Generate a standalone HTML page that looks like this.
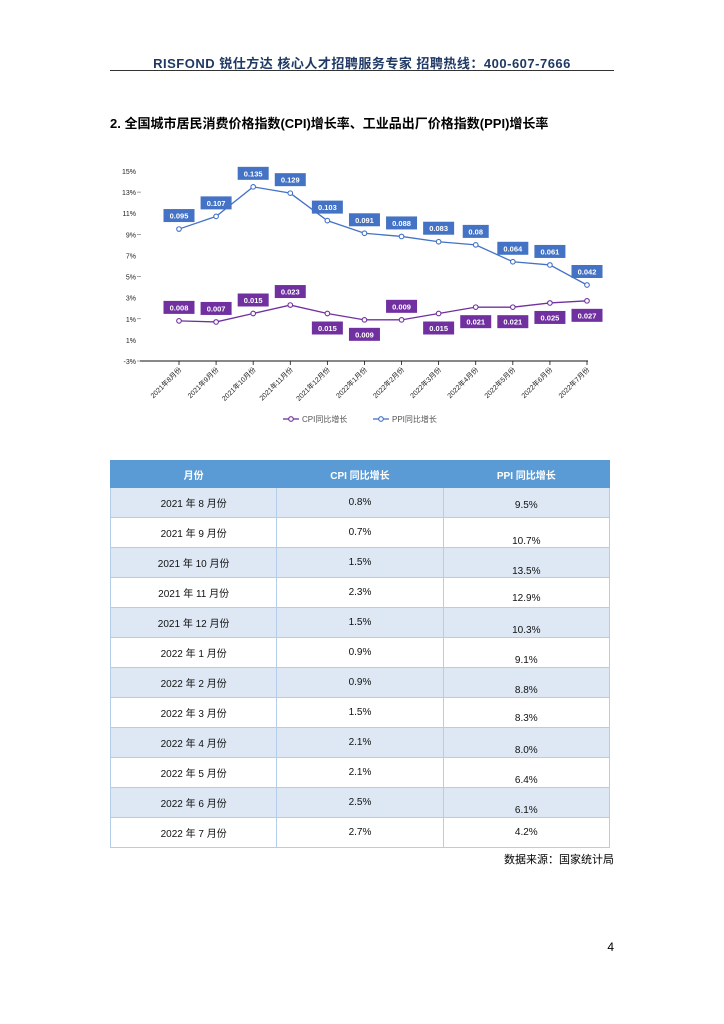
<!DOCTYPE html>
<html><head><meta charset="utf-8">
<style>
body{margin:0;background:#fff;width:724px;height:1024px;position:relative;font-family:"Liberation Sans","Noto Sans CJK SC",sans-serif;overflow:hidden}
.hdr{position:absolute;left:0;width:724px;top:53px;text-align:center;font-weight:bold;font-size:13px;color:#1f3864;letter-spacing:0.5px}
.rule{position:absolute;left:110px;width:504px;top:70px;height:0;border-top:1.5px solid #333}
.title{position:absolute;left:110px;top:113px;font-weight:bold;font-size:13px;color:#000}
table{position:absolute;left:110px;top:460px;width:500px;border-collapse:collapse;font-size:10px;color:#111}
td,th{border:1px solid #b4cde9;text-align:center;height:29px;padding:0;width:166px}
th{background:#5b9bd5;color:#fff;font-weight:bold;height:26px;border-color:#5b9bd5}
tr:nth-child(even) td{background:#dde8f4}
.src{position:absolute;right:110px;top:851px;font-size:11px}
.pg{position:absolute;right:110px;top:940px;font-size:12px}
</style></head><body>
<div class="hdr">RISFOND 锐仕方达 核心人才招聘服务专家 招聘热线：400-607-7666</div>
<div class="rule"></div>
<div class="title">2. 全国城市居民消费价格指数(CPI)增长率、工业品出厂价格指数(PPI)增长率</div>
<svg id="chart" style="position:absolute;left:0;top:0" width="724" height="440"></svg>
<table id="tbl">
<tr><th>月份</th><th>CPI 同比增长</th><th>PPI 同比增长</th></tr>
</table>
<div class="src">数据来源：国家统计局</div>
<div class="pg">4</div>
<script>
const months=["2021年8月份","2021年9月份","2021年10月份","2021年11月份","2021年12月份","2022年1月份","2022年2月份","2022年3月份","2022年4月份","2022年5月份","2022年6月份","2022年7月份"];
const tableMonths=["2021 年 8 月份","2021 年 9 月份","2021 年 10 月份","2021 年 11 月份","2021 年 12 月份","2022 年 1 月份","2022 年 2 月份","2022 年 3 月份","2022 年 4 月份","2022 年 5 月份","2022 年 6 月份","2022 年 7 月份"];
const cpi=[0.008,0.007,0.015,0.023,0.015,0.009,0.009,0.015,0.021,0.021,0.025,0.027];
const ppi=[0.095,0.107,0.135,0.129,0.103,0.091,0.088,0.083,0.080,0.064,0.061,0.042];
const yTicks=[15,13,11,9,7,5,3,1,-1,-3];
const yTickLabels=["15%","13%","11%","9%","7%","5%","3%","1%","1%","-3%"];
const cpiLabelAbove=[1,1,1,1,0,0,1,0,0,0,0,0];
const ppiCol=[3,9,9,6,8,8,8,6,8,8,8,0];
const NS="http://www.w3.org/2000/svg";
const svg=document.getElementById('chart');
const X=i=>179+i*(587-179)/11;
const Y=v=>171+(15-v)*(361-171)/18;
function el(t,a,p){const e=document.createElementNS(NS,t);for(const k in a)e.setAttribute(k,a[k]);(p||svg).appendChild(e);return e;}
yTicks.forEach((t,i)=>{
 const tx=el('text',{x:136,y:Y(t)+3,'text-anchor':'end','font-size':7,fill:'#222'});
 tx.textContent=yTickLabels[i];
 
 
 if(i%2==1){el('line',{x1:137,x2:141,y1:Y(t),y2:Y(t),stroke:'#666','stroke-width':0.6});}
});
const ax=el('line',{x1:140,x2:588,y1:361,y2:361,stroke:'#111','stroke-width':1});


months.forEach((m,i)=>{
 el('line',{x1:X(i),x2:X(i),y1:361,y2:365,stroke:'#111','stroke-width':0.8});
 const t=el('text',{x:X(i)+3,y:370,'text-anchor':'end','font-size':7,fill:'#222',transform:`rotate(-45 ${X(i)+3} 370)`});
 t.textContent=m;
 
 
});
function series(vals,color,name,above){
 const pl=el('polyline',{points:vals.map((v,i)=>X(i)+','+Y(v*100)).join(' '),fill:'none',stroke:color,'stroke-width':1.3});
 
 
 vals.forEach((v,i)=>{
  const c=el('circle',{cx:X(i),cy:Y(v*100),r:2.3,fill:'#fff',stroke:color,'stroke-width':1.1});
  
  
  const lbl=String(v);
  const w=lbl.length*5+6;
  const up=above(i);
  const by=up?Y(v*100)-20:Y(v*100)+8;
  el('rect',{x:X(i)-w/2,y:by,width:w,height:13,fill:color});
  const t=el('text',{x:X(i),y:by+9.5,'text-anchor':'middle','font-size':7.5,'font-weight':'bold',fill:'#fff'});
  t.textContent=lbl;
  
  
 });
}
series(ppi,'#4472c4','ppi',()=>true);
series(cpi,'#7030a0','cpi',i=>cpiLabelAbove[i]);
[[283,'#7030a0','CPI同比增长'],[373,'#4472c4','PPI同比增长']].forEach(([x,c,n])=>{
 el('line',{x1:x,x2:x+16,y1:419,y2:419,stroke:c,'stroke-width':1.3});
 el('circle',{cx:x+8,cy:419,r:2.3,fill:'#fff',stroke:c,'stroke-width':1.1});
 const t=el('text',{x:x+19,y:422,'font-size':8,fill:'#555'});
 t.textContent=n;
 
 
});
const tbl=document.getElementById('tbl');
tableMonths.forEach((m,i)=>{
 const tr=document.createElement('tr');
 
 
 tr.innerHTML=`<td>${m}</td><td>${(cpi[i]*100).toFixed(1)}%</td><td style="padding-top:${ppiCol[i]*2}px;height:${29-ppiCol[i]*2}px">${(ppi[i]*100).toFixed(1)}%</td>`;
 tbl.appendChild(tr);
});
</script>
</body></html>
